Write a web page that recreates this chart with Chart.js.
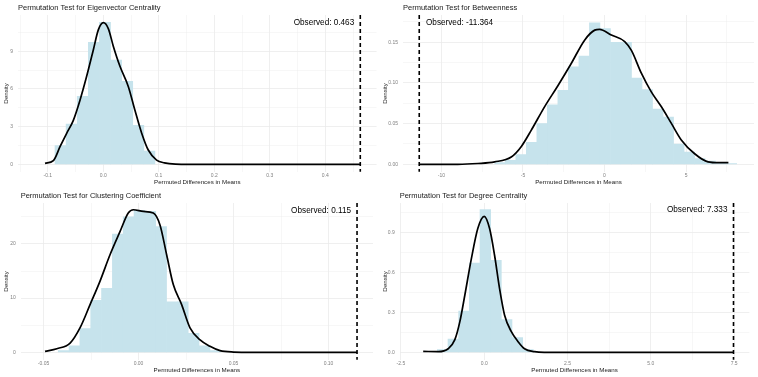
<!DOCTYPE html>
<html>
<head>
<meta charset="utf-8">
<script src="https://cdn.jsdelivr.net/npm/chart.js@4.4.1/dist/chart.umd.min.js"></script>
<style>
  html, body { margin: 0; padding: 0; background: #fff; }
  #wrap { position: relative; width: 758px; height: 377px; }
  canvas { position: absolute; }
</style>
</head>
<body>
<div id="wrap">
  <canvas id="eigen" width="379" height="188" style="left:0;top:0"></canvas>
  <canvas id="betw" width="379" height="188" style="left:379px;top:0"></canvas>
  <canvas id="clust" width="379" height="188" style="left:0;top:188px"></canvas>
  <canvas id="degree" width="379" height="188" style="left:379px;top:188px"></canvas>
</div>
<script>
// --- данные ---

// Eigenvector Centrality
const eigenBinCenters = [-0.077, -0.057, -0.037, -0.017, 0.003, 0.023, 0.043, 0.063, 0.083];
const eigenBinDensity = [1.5, 3.2, 5.4, 9.7, 11.3, 8.3, 6.6, 3.1, 1.05];
const eigenCurveX = [-0.105, -0.09, -0.078, -0.066, -0.054, -0.042, -0.03, -0.018, -0.009, 0.0, 0.009, 0.018, 0.03, 0.045, 0.057, 0.069, 0.081, 0.096, 0.11, 0.13, 0.16, 0.2, 0.463];
const eigenCurveY = [0.08, 0.29, 1.4, 2.47, 3.5, 5.1, 7.0, 9.1, 10.7, 11.27, 10.8, 9.4, 7.8, 6.2, 4.3, 2.5, 1.14, 0.34, 0.12, 0.02, 0.003, 0, 0];

// Betweenness
const betwBinCenters = [-6.4075, -5.7625, -5.1175, -4.4725, -3.8275, -3.1825, -2.5375, -1.8925, -1.2475, -0.6025, 0.0425, 0.6875, 1.3325, 1.9775, 2.6225, 3.2675, 3.9125, 4.5575, 5.2025, 5.8475, 6.4925, 7.1375, 7.7825];
const betwBinDensity = [0.002, 0.005, 0.012, 0.027, 0.05, 0.073, 0.091, 0.12, 0.133, 0.174, 0.167, 0.15, 0.15, 0.106, 0.092, 0.068, 0.058, 0.025, 0.015, 0.007, 0.004, 0.002, 0.001];
const betwCurveX = [-11.364, -9, -7.76, -6.74, -5.72, -5.1, -4.49, -3.67, -2.85, -2.04, -1.21, -0.6, -0.3, 0.42, 1.24, 1.65, 2.26, 2.87, 3.48, 4.11, 4.71, 5.53, 6.35, 7.0, 7.6];
const betwCurveY = [0, 0, 0.001, 0.003, 0.009, 0.022, 0.042, 0.071, 0.097, 0.124, 0.153, 0.165, 0.166, 0.159, 0.151, 0.14, 0.112, 0.089, 0.071, 0.05, 0.03, 0.013, 0.003, 0.002, 0.002];

// Clustering Coefficient
const clustBinCenters = [-0.0394, -0.0337, -0.028, -0.0223, -0.0166, -0.0109, -0.0052, 0.0005, 0.0062, 0.0119, 0.0176, 0.0233, 0.029, 0.0347, 0.0404];
const clustBinDensity = [0.3, 1.2, 4.4, 9.6, 11.8, 21.8, 25.0, 26.2, 26.0, 23.2, 9.3, 9.3, 3.5, 1.2, 0.3];
const clustCurveX = [-0.0492, -0.043, -0.036, -0.0308, -0.0255, -0.0203, -0.015, -0.0097, -0.0054, -0.0027, 0.0025, 0.0078, 0.0113, 0.0148, 0.0183, 0.0227, 0.0271, 0.0324, 0.0376, 0.0429, 0.05, 0.06, 0.115];
const clustCurveY = [0.18, 0.67, 1.7, 4.5, 8.8, 13.1, 18.0, 22.3, 25.7, 26.3, 26.0, 25.7, 23.5, 18.0, 12.5, 8.8, 4.5, 2.3, 1.1, 0.3, 0.05, 0, 0];

// Degree Centrality
const degreeBinCenters = [-1.246, -0.926, -0.606, -0.286, 0.034, 0.354, 0.674, 0.994, 1.314];
const degreeBinDensity = [0.02, 0.1, 0.31, 0.67, 1.07, 0.69, 0.245, 0.11, 0.02];
const degreeCurveX = [-1.83, -1.38, -1.08, -0.88, -0.73, -0.58, -0.39, -0.19, 0.0, 0.16, 0.31, 0.46, 0.61, 0.81, 1.01, 1.21, 1.51, 1.8, 7.48];
const degreeCurveY = [0.007, 0.005, 0.027, 0.095, 0.23, 0.43, 0.695, 0.93, 1.02, 0.93, 0.73, 0.48, 0.28, 0.157, 0.082, 0.027, 0.005, 0, 0];

// наблюдаемые значения (подпись) и положение пунктирной линии
const observedValues = [0.463, -11.364, 0.115, 7.333];
const observedLineAt = [0.463, -11.364, 0.115, 7.48];

const panelTitles = [
  'Permutation Test for Eigenvector Centrality',
  'Permutation Test for Betweenness',
  'Permutation Test for Clustering Coefficient',
  'Permutation Test for Degree Centrality',
];

// оси: пределы, шаг сетки (минорный), шаг подписей, знаков после запятой
const xAxes = [
  { min: -0.1537, max: 0.4924, step: 0.05, major: 0.1, digits: 1 },
  { min: -12.36, max: 9.17, step: 2.5, major: 5, digits: 0 },
  { min: -0.062, max: 0.1234, step: 0.025, major: 0.05, digits: 2 },
  { min: -2.535, max: 7.957, step: 1.25, major: 2.5, digits: 1 },
];
const yAxes = [
  { min: -0.594, max: 11.88, step: 1.5, major: 3, digits: 0 },
  { min: -0.0092, max: 0.1836, step: 0.025, major: 0.05, digits: 2 },
  { min: -1.38, max: 27.55, step: 5, major: 10, digits: 0 },
  { min: -0.056, max: 1.12, step: 0.15, major: 0.3, digits: 1 },
];

// --- разметка (пиксели внутри холста) ---
const CANVAS_W = 379;
const CANVAS_H = 188;
const AREA_TOP = 15;
const AREA_BOTTOM = 171.8;
const areaLeft = [18, 24, 20.7, 20.7];
const areaRight = [376.6, 375, 373, 370.4];

const FONT = '"Liberation Sans", Arial, Helvetica, sans-serif';
Chart.defaults.font.family = FONT;

const isMajor = (v, major) => Math.abs(v / major - Math.round(v / major)) < 1e-6;

// Плагин: заголовок панели, пунктирная линия и подпись Observed
const panelDecor = {
  id: 'panelDecor',
  afterDatasetsDraw(chart, args, opts) {
    const { ctx, chartArea, scales } = chart;
    const x = scales.x.getPixelForValue(opts.lineAt);
    ctx.save();
    ctx.strokeStyle = '#000';
    ctx.lineWidth = 1.6;
    ctx.setLineDash([4, 3]);
    ctx.beginPath();
    ctx.moveTo(x, chartArea.top);
    ctx.lineTo(x, chartArea.bottom);
    ctx.stroke();
    ctx.setLineDash([]);

    const label = 'Observed: ' + opts.observed.toFixed(3);
    ctx.font = '8.2px ' + FONT;
    ctx.fillStyle = '#000';
    ctx.textBaseline = 'middle';
    const w = ctx.measureText(label).width;
    const y = scales.y.getPixelForValue(opts.labelY);
    const mid = (chartArea.left + chartArea.right) / 2;
    if (x > mid) {
      ctx.textAlign = 'right';
      ctx.fillText(label, x - 0.1 * w, y);
    } else {
      ctx.textAlign = 'left';
      ctx.fillText(label, x + 0.1 * w, y);
    }

    ctx.font = '7.5px ' + FONT;
    ctx.fillStyle = '#1a1a1a';
    ctx.textAlign = 'left';
    ctx.fillText(opts.title, chartArea.left, 7.8);
    ctx.restore();
  },
};

function makeAxis(ax, isX, i) {
  return {
    type: 'linear',
    min: ax.min,
    max: ax.max,
    offset: false,
    grid: {
      color: '#ebebeb',
      lineWidth: (c) => (c.tick && isMajor(c.tick.value, ax.major) ? 0.8 : 0.4),
      drawTicks: false,
      offset: false,
    },
    border: { display: false },
    ticks: {
      stepSize: ax.step,
      includeBounds: false,
      autoSkip: false,
      maxRotation: 0,
      padding: isX ? 1 : 5,
      color: '#7f7f7f',
      font: { size: 5, lineHeight: 1 },
      callback: (v) => (isMajor(v, ax.major) ? Number(v).toFixed(ax.digits) : ''),
    },
    title: {
      display: true,
      text: isX ? 'Permuted Differences in Means' : 'Density',
      color: '#1a1a1a',
      font: { size: 6.2, lineHeight: 1.2 },
      padding: isX ? { top: 0, bottom: 1.6 } : { top: 2.3, bottom: 0 },
    },
    afterFit: (scale) => {
      if (isX) scale.height = CANVAS_H - AREA_BOTTOM;
      else scale.width = areaLeft[i];
    },
  };
}

function renderPanel(canvasId, i, binCenters, binDensity, curveX, curveY) {
  const ctx = document.getElementById(canvasId).getContext('2d');
  return new Chart(ctx, {
    type: 'line',
    data: {
      datasets: [
        {
          type: 'line',
          data: curveX.map((x, k) => ({ x, y: curveY[k] })),
          borderColor: '#000',
          borderWidth: 1.7,
          pointRadius: 0,
          cubicInterpolationMode: 'monotone',
          fill: false,
          order: 1,
        },
        {
          type: 'bar',
          data: binCenters.map((x, k) => ({ x, y: binDensity[k] })),
          backgroundColor: '#c6e3ec',
          borderWidth: 0,
          barPercentage: 1,
          categoryPercentage: 1,
          order: 2,
        },
      ],
    },
    options: {
      responsive: false,
      animation: false,
      devicePixelRatio: 1,
      events: [],
      layout: {
        padding: { left: 0, right: CANVAS_W - areaRight[i], top: AREA_TOP, bottom: 0 },
      },
      plugins: {
        legend: { display: false },
        tooltip: { enabled: false },
        panelDecor: {
          title: panelTitles[i],
          observed: observedValues[i],
          lineAt: observedLineAt[i],
          labelY: Math.max(...binDensity),
        },
      },
      scales: {
        x: makeAxis(xAxes[i], true, i),
        y: makeAxis(yAxes[i], false, i),
      },
    },
    plugins: [panelDecor],
  });
}

renderPanel('eigen', 0, eigenBinCenters, eigenBinDensity, eigenCurveX, eigenCurveY);
renderPanel('betw', 1, betwBinCenters, betwBinDensity, betwCurveX, betwCurveY);
renderPanel('clust', 2, clustBinCenters, clustBinDensity, clustCurveX, clustCurveY);
renderPanel('degree', 3, degreeBinCenters, degreeBinDensity, degreeCurveX, degreeCurveY);
</script>
</body>
</html>
